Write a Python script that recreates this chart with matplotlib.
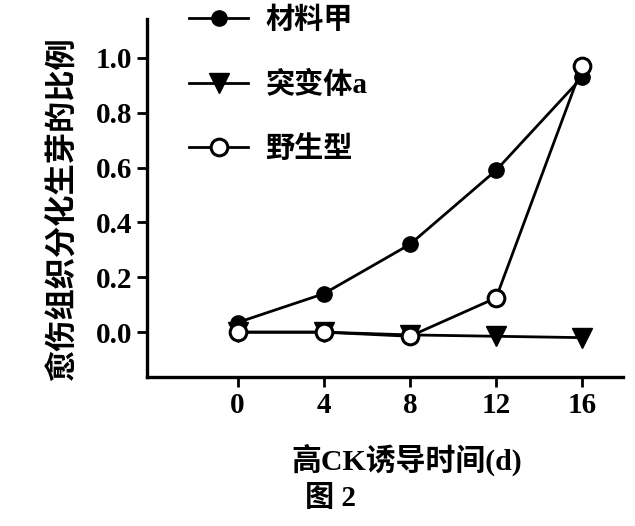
import matplotlib
matplotlib.use("Agg")
import matplotlib.pyplot as plt

plt.rcParams['font.family'] = ['Liberation Serif', 'Noto Sans CJK SC']
plt.rcParams['font.weight'] = 'bold'
plt.rcParams['axes.labelweight'] = 'bold'

days = [0, 4, 8, 12, 16]
cailiao_jia = [0.035, 0.14, 0.32, 0.59, 0.93]
tubianti_a = [0.0, 0.0, -0.01, -0.015, -0.02]
yeshengxing = [0.0, 0.0, -0.015, 0.125, 0.97]
y_ticks = [0.0, 0.2, 0.4, 0.6, 0.8, 1.0]

fig = plt.figure(figsize=(6.35, 5.26), dpi=100)
ax = fig.add_axes([0.2315, 0.283, 0.75, 0.68])

ax.plot(days, tubianti_a, color='black', lw=2, marker='v', ms=14, zorder=2, label='突变体a')
ax.plot(days, cailiao_jia, color='black', lw=2, marker='o', ms=11, zorder=3, label='材料甲')
ax.plot(days, yeshengxing, color='black', lw=2, marker='o', ms=12, mfc='white', mew=2.2,
        zorder=4, label='野生型')

ax.set_xlim(-4.2, 17.9)
ax.set_ylim(-0.164, 1.14)
ax.set_xticks(days)
ax.set_yticks(y_ticks)
ax.set_yticklabels([f'{v:.1f}' for v in y_ticks])
ax.tick_params(labelsize=21, width=2, length=7, direction='out')
for s in ['top', 'right']:
    ax.spines[s].set_visible(False)
for s in ['left', 'bottom']:
    ax.spines[s].set_linewidth(2.4)

ax.set_xlabel('高CK诱导时间(d)', fontsize=21.5, labelpad=18, x=0.545)
ax.set_ylabel('愈伤组织分化生芽的比例', fontsize=22.5, labelpad=12, y=0.47)
fig.text(0.52, 0.026, '图 2', fontsize=21, ha='center', va='bottom')

h, l = ax.get_legend_handles_labels()
order = [1, 0, 2]
fig.legend([h[i] for i in order], [l[i] for i in order], loc='upper left',
           bbox_to_anchor=(0.257, 1.037), frameon=False, fontsize=21,
           handlelength=2.0, labelspacing=1.25, handletextpad=0.6)

fig.savefig('out.png', dpi=100)
